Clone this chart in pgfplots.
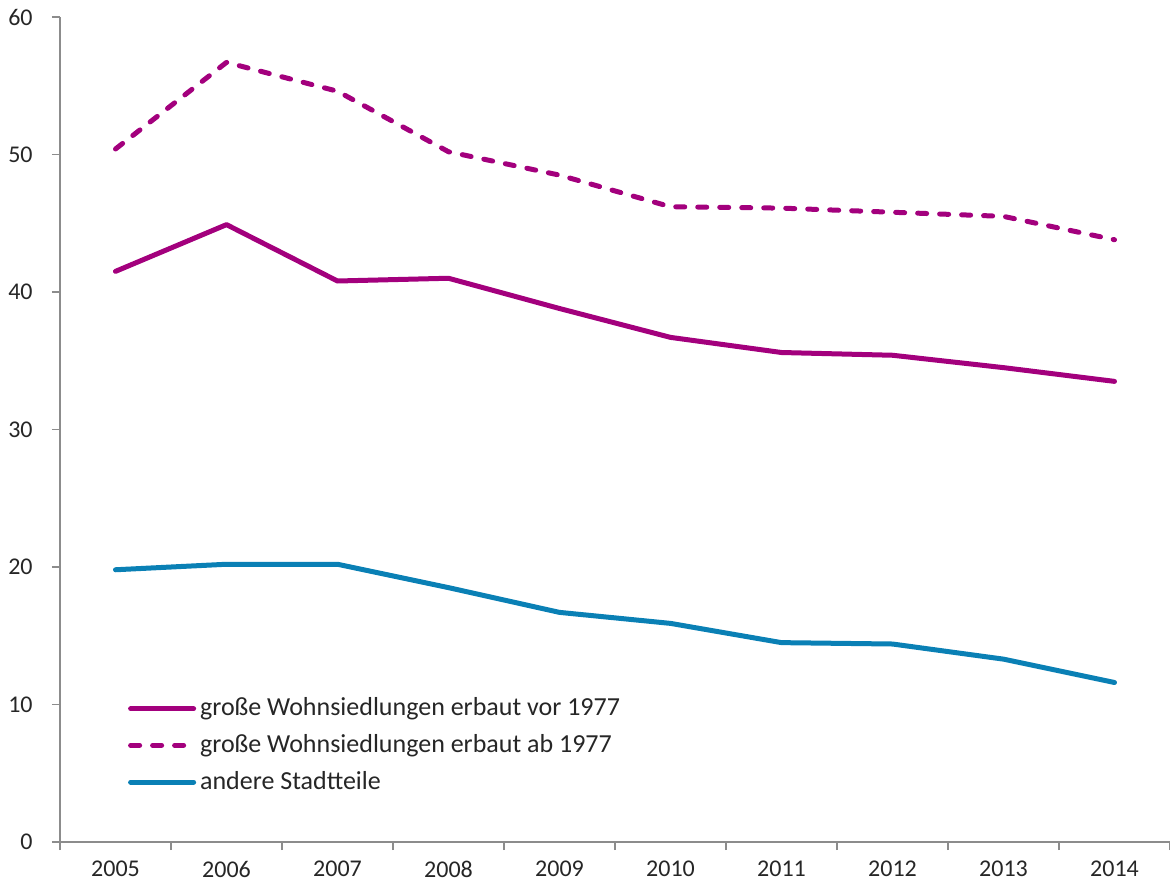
\documentclass[border=0pt]{standalone}
\usepackage{pgfplots}
\pgfplotsset{compat=1.18}
\usepackage{fontspec}
\setmainfont{Carlito}
\definecolor{mag}{HTML}{A3007D}
\definecolor{blu}{HTML}{0A80B5}
\definecolor{axgray}{HTML}{8C8C8C}
\begin{document}
\fontsize{12pt}{14pt}\selectfont
\begin{tikzpicture}
\begin{axis}[
  scale only axis,
  width=555pt, height=412.5pt,
  xmin=-0.5, xmax=9.5, ymin=0, ymax=60,
  axis x line*=bottom, axis y line*=left,
  axis line style={axgray, line width=0.6pt, -},
  xtick={0,...,9},
  xticklabels={2005,2006,2007,2008,2009,2010,2011,2012,2013,2014},
  major x tick style={draw=none},
  minor xtick={-0.5,0.5,...,9.5},
  minor x tick style={axgray, line width=0.6pt},
  minor tick length=4pt,
  ytick={0,10,...,60},
  major tick length=4pt,
  y tick style={axgray, line width=0.6pt},
  tick align=outside,
  xticklabel style={font=\fontsize{12pt}{14pt}\selectfont, text=black!85, yshift=-1.5pt},
  yticklabel style={font=\fontsize{12pt}{14pt}\selectfont, text=black!85, xshift=-5.5pt},
  /pgf/number format/assume math mode=true,
  clip=false,
  legend style={draw=none, fill=none, at={(rel axis cs:0.061,0.18)}, anchor=north west,
    font=\fontsize{13pt}{15pt}\selectfont, text=black!85, row sep=3.5pt,
    inner sep=0pt, cells={anchor=west}},
  legend cell align=left,
  legend image code/.code={\draw[#1, line cap=round] (1.5pt,0pt) -- (33pt,0pt);},
]
\addplot[mag, line width=2.5pt, line join=round, line cap=round] coordinates {
(0,41.5) (1,44.9) (2,40.8) (3,41.0) (4,38.8) (5,36.7) (6,35.6) (7,35.4) (8,34.5) (9,33.5)};
\addlegendentry{große Wohnsiedlungen erbaut vor 1977}
\addplot[mag, line width=2.5pt, line join=round, line cap=round, dash pattern=on 4.5pt off 6.5pt] coordinates {
(0,50.4) (1,56.7) (2,54.6) (3,50.2) (4,48.5) (5,46.2) (6,46.1) (7,45.8) (8,45.5) (9,43.8)};
\addlegendentry{große Wohnsiedlungen erbaut ab 1977}
\addplot[blu, line width=2.5pt, line join=round, line cap=round] coordinates {
(0,19.8) (1,20.2) (2,20.2) (3,18.5) (4,16.7) (5,15.9) (6,14.5) (7,14.4) (8,13.3) (9,11.6)};
\addlegendentry{andere Stadtteile}
\coordinate (bl) at (rel axis cs:0,0);
\coordinate (tr) at (rel axis cs:1,1);
\end{axis}
\pgfresetboundingbox
\path ([shift={(-30pt,-24.5pt)}]bl) rectangle ([shift={(0pt,8.5pt)}]tr);
\end{tikzpicture}
\end{document}
